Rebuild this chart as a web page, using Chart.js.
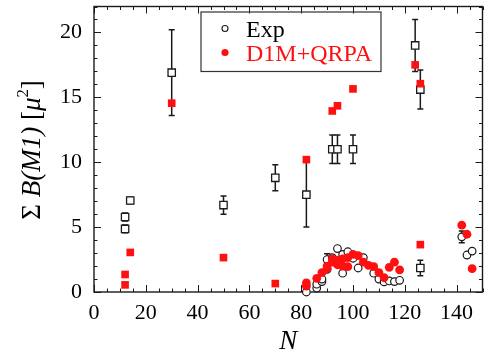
<!DOCTYPE html>
<html>
<head>
<meta charset="utf-8">
<script src="https://cdn.jsdelivr.net/npm/chart.js@4.4.0/dist/chart.umd.min.js"></script>
<style>
  html, body { margin: 0; padding: 0; background: #fff; }
  #wrap { width: 489px; height: 352px; }
  .preload { font-family: "Liberation Serif"; position: absolute; left: -999px; }
</style>
</head>
<body>
<span class="preload">0 <i>N</i></span>
<div id="wrap"><canvas id="chart" width="489" height="352"></canvas></div>
<script>
// Summed M1 strength vs neutron number: experiment vs D1M+QRPA

// experiment, open squares (with error bars)
const expSqN   = [12, 12, 14, 30, 50, 70, 82, 92, 94, 100, 124, 126, 126];
const expSqVal = [4.86, 5.78, 7.05, 16.9, 6.7, 8.8, 7.5, 11.0, 11.0, 11.0, 19.0, 15.6, 1.85];
const expSqErr = [0.3, 0.3, 0.25, 3.3, 0.7, 1.0, 2.5, 1.1, 1.1, 1.1, 2.0, 1.5, 0.6];

// experiment, open circles (deformed nuclei)
const expCiN   = [82, 86, 86, 88, 88, 90, 90, 92, 94, 96, 96, 98, 100, 102, 104, 108, 110, 112, 114, 116, 118, 142, 144, 146];
const expCiVal = [0.0, 0.3, 0.6, 0.8, 1.0, 1.75, 2.5, 2.65, 3.35, 1.45, 2.9, 3.1, 2.6, 1.85, 2.65, 1.45, 1.0, 0.78, 0.85, 0.8, 0.9, 4.25, 2.85, 3.15];
const expCiErr = [0, 0, 0, 0, 0, 0, 0.45, 0, 0, 0, 0, 0, 0, 0, 0, 0, 0, 0, 0, 0, 0, 0.45, 0, 0];

// D1M+QRPA, filled squares
const thSqN   = [12, 12, 14, 30, 50, 70, 82, 92, 94, 100, 124, 126, 126];
const thSqVal = [0.55, 1.35, 3.05, 14.55, 2.65, 0.65, 10.2, 13.95, 14.35, 15.65, 17.5, 16.05, 3.65];

// D1M+QRPA, filled circles
const thCiN   = [82, 82, 86, 88, 90, 90, 92, 92, 94, 94, 96, 96, 98, 98, 100, 102, 104, 106, 108, 110, 112, 114, 116, 118, 142, 144, 146];
const thCiVal = [0.45, 0.7, 1.05, 1.5, 1.8, 2.0, 2.3, 2.55, 2.1, 2.45, 2.55, 2.0, 2.65, 1.95, 2.9, 2.8, 2.3, 2.05, 1.95, 1.5, 1.1, 1.9, 2.3, 1.7, 5.15, 4.45, 1.8];

const xTicks = [0, 20, 40, 60, 80, 100, 120, 140];
const yTicks = [0, 5, 10, 15, 20];

const FONT = '"Liberation Serif", "Times New Roman", serif';
const RED = '#ff1010';
const INK = '#1a1a1a';

Chart.defaults.font.family = FONT;
Chart.defaults.color = '#000';

const pts = (xs, ys) => xs.map((n, i) => ({ x: n, y: ys[i] }));

// tick marks on all four sides, pointing inward, plus the frame
const frameTicks = {
  id: 'frameTicks',
  beforeDatasetsDraw(chart) {
    const { ctx, chartArea: { left, right, top, bottom }, scales: { x, y } } = chart;
    ctx.save();
    ctx.strokeStyle = INK;
    ctx.lineWidth = 1;
    ctx.beginPath();
    for (let v = x.min; v <= x.max; v += 5) {
      const px = Math.round(x.getPixelForValue(v)) + 0.5;
      const len = v % 20 === 0 ? 7 : 3.5;
      ctx.moveTo(px, bottom); ctx.lineTo(px, bottom - len);
      ctx.moveTo(px, top); ctx.lineTo(px, top + len);
    }
    for (let v = y.min; v <= y.max; v += 1) {
      const py = Math.round(y.getPixelForValue(v)) + 0.5;
      const len = v % 5 === 0 ? 7 : 3.5;
      ctx.moveTo(left, py); ctx.lineTo(left + len, py);
      ctx.moveTo(right, py); ctx.lineTo(right - len, py);
    }
    ctx.stroke();
    ctx.lineWidth = 1.4;
    ctx.strokeRect(left, top, right - left, bottom - top);
    ctx.restore();
  }
};

// vertical error bars with small caps, drawn under the markers
const errorBars = {
  id: 'errorBars',
  beforeDatasetsDraw(chart) {
    const { ctx, scales: { x, y } } = chart;
    ctx.save();
    ctx.strokeStyle = INK;
    ctx.lineWidth = 1.5;
    chart.data.datasets.forEach(ds => {
      if (!ds.errors) return;
      ds.data.forEach((p, i) => {
        const e = ds.errors[i];
        if (!e) return;
        const px = x.getPixelForValue(p.x);
        const y1 = y.getPixelForValue(p.y + e);
        const y2 = y.getPixelForValue(p.y - e);
        ctx.beginPath();
        ctx.moveTo(px, y1); ctx.lineTo(px, y2);
        ctx.moveTo(px - 3, y1); ctx.lineTo(px + 3, y1);
        ctx.moveTo(px - 3, y2); ctx.lineTo(px + 3, y2);
        ctx.stroke();
      });
    });
    ctx.restore();
  }
};

// boxed legend inside the plot and the mixed-style y title
const decorations = {
  id: 'decorations',
  afterDraw(chart) {
    const { ctx } = chart;
    ctx.save();

    // legend box
    ctx.strokeStyle = '#333';
    ctx.lineWidth = 1.2;
    ctx.strokeRect(201, 12, 180, 59.5);
    ctx.lineWidth = 1.1;
    ctx.strokeStyle = INK;
    ctx.fillStyle = '#fff';
    ctx.beginPath(); ctx.arc(225, 28.5, 3, 0, Math.PI * 2); ctx.fill(); ctx.stroke();
    ctx.fillStyle = RED;
    ctx.beginPath(); ctx.arc(225, 52.5, 3.6, 0, Math.PI * 2); ctx.fill();
    ctx.font = '24px ' + FONT;
    ctx.textBaseline = 'alphabetic';
    ctx.fillStyle = '#000';
    ctx.fillText('Exp', 246, 37);
    ctx.fillStyle = RED;
    ctx.fillText('D1M+QRPA', 246, 61);

    // y axis title: Σ B(M1) [μ²]
    const size = 27;
    const parts = [
      { t: 'Σ ', f: '' },
      { t: 'B(M1)', f: 'italic ' },
      { t: ' [', f: '' },
      { t: 'μ', f: 'italic ' },
      { t: '2', f: '', sup: true },
      { t: ']', f: '' }
    ];
    const fontOf = p => p.f + (p.sup ? size * 0.62 : size) + 'px ' + FONT;
    let total = 0;
    parts.forEach(p => { ctx.font = fontOf(p); p.w = ctx.measureText(p.t).width; total += p.w; });
    ctx.translate(40, 150);
    ctx.rotate(-Math.PI / 2);
    ctx.fillStyle = '#000';
    let cx = -total / 2;
    parts.forEach(p => {
      ctx.font = fontOf(p);
      ctx.fillText(p.t, cx, p.sup ? -size * 0.45 : 0);
      cx += p.w;
    });
    ctx.restore();
  }
};

function build() {
  new Chart(document.getElementById('chart'), {
    type: 'scatter',
    data: {
      datasets: [
        {
          label: 'D1M+QRPA',
          data: pts(thSqN, thSqVal),
          pointStyle: 'rect', radius: 5.4,
          backgroundColor: RED, borderColor: RED, borderWidth: 0,
          order: 0
        },
        {
          label: 'D1M+QRPA',
          data: pts(thCiN, thCiVal),
          pointStyle: 'circle', radius: 4.4,
          backgroundColor: RED, borderColor: RED, borderWidth: 0,
          order: 1
        },
        {
          label: 'Exp',
          data: pts(expCiN, expCiVal),
          errors: expCiErr,
          pointStyle: 'circle', radius: 3.8,
          backgroundColor: '#fff', borderColor: INK, borderWidth: 1.2,
          order: 2
        },
        {
          label: 'Exp',
          data: pts(expSqN, expSqVal),
          errors: expSqErr,
          pointStyle: 'rect', radius: 5.2,
          backgroundColor: '#fff', borderColor: INK, borderWidth: 1.3,
          order: 3
        }
      ]
    },
    options: {
      responsive: false,
      animation: false,
      devicePixelRatio: 1,
      clip: false,
      layout: { padding: { top: 6, right: 5, left: 0, bottom: 0 } },
      plugins: {
        legend: { display: false },
        tooltip: { enabled: false }
      },
      elements: { point: { hoverRadius: 0 } },
      scales: {
        x: {
          type: 'linear', min: 0, max: 150,
          grid: { display: false, drawTicks: false },
          border: { display: false },
          afterBuildTicks: s => { s.ticks = xTicks.map(v => ({ value: v })); },
          afterFit: s => { s.height = 60; s.paddingLeft = 0; s.paddingRight = 0; },
          ticks: { color: '#000', padding: 8, font: { family: FONT, size: 22, style: 'normal' } },
          title: {
            display: true, text: 'N', color: '#000',
            padding: { top: 0, bottom: -3 },
            font: { family: FONT, size: 27, style: 'italic', lineHeight: 1 }
          }
        },
        y: {
          type: 'linear', min: 0, max: 22,
          grid: { display: false, drawTicks: false },
          border: { display: false },
          afterBuildTicks: s => { s.ticks = yTicks.map(v => ({ value: v })); },
          afterFit: s => { s.width = 94; s.paddingTop = 0; s.paddingBottom = 0; },
          ticks: { color: '#000', padding: 12, font: { family: FONT, size: 22, style: 'normal' } }
        }
      }
    },
    plugins: [frameTicks, errorBars, decorations]
  });
}

if (document.fonts && document.fonts.load) {
  Promise.all([
    document.fonts.load('22px "Liberation Serif"'),
    document.fonts.load('italic 22px "Liberation Serif"')
  ]).then(build, build);
} else {
  build();
}
</script>
</body>
</html>
